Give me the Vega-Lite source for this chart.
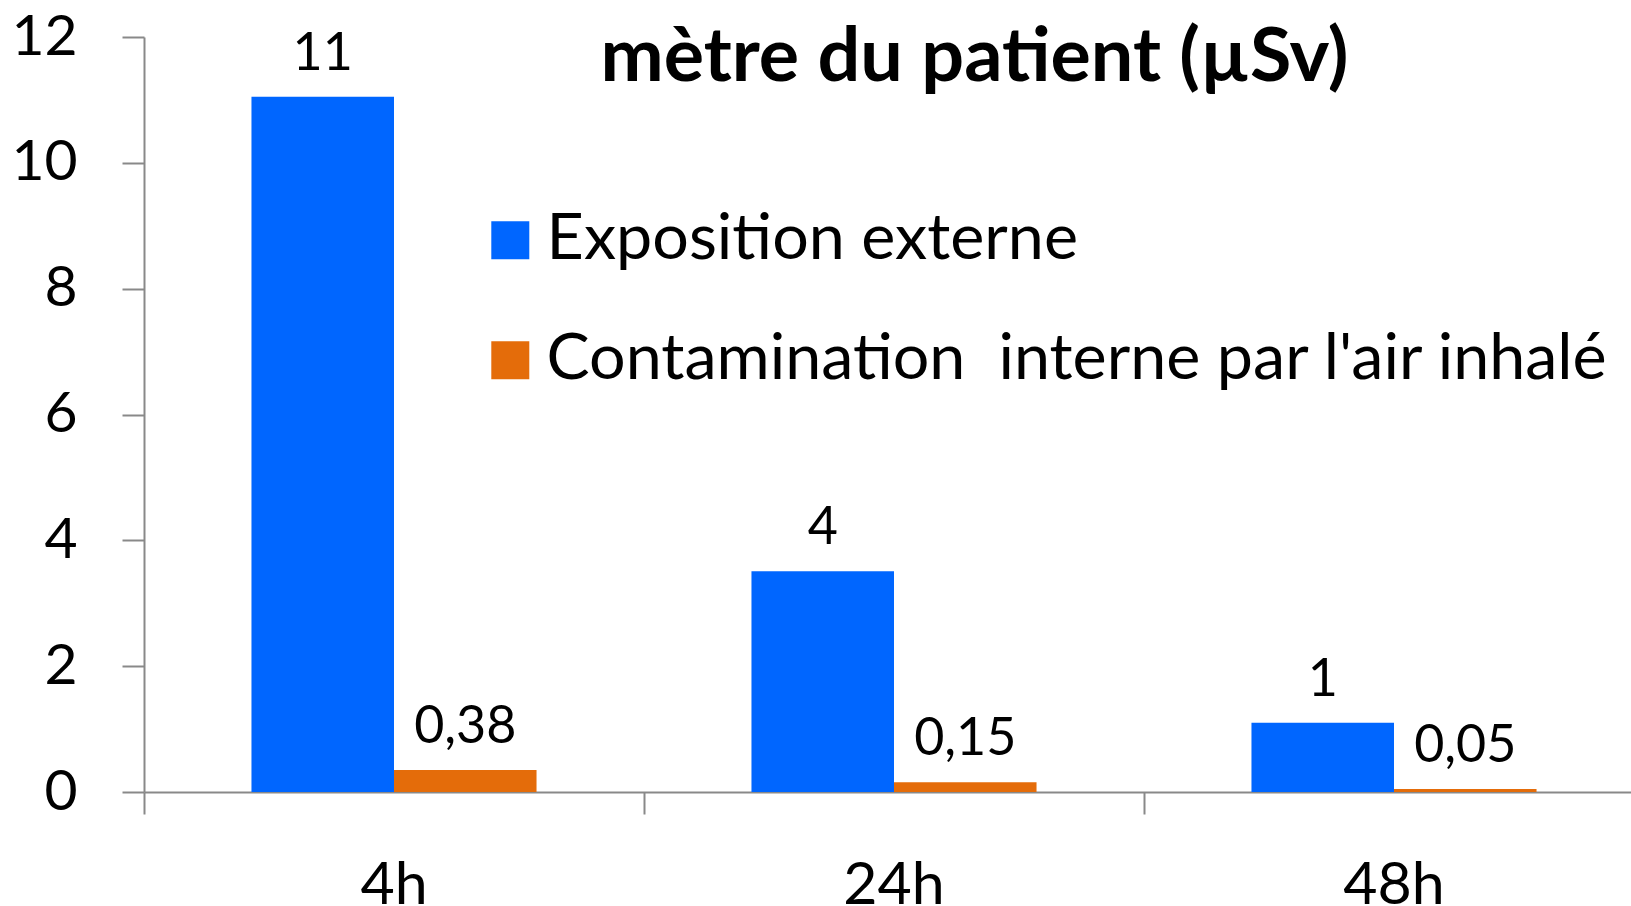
{
  "$schema": "https://vega.github.io/schema/vega-lite/v6.json",
  "width": 1487,
  "height": 755,
  "autosize": {"type": "none"},
  "padding": {"left": 144, "top": 37, "right": 0, "bottom": 114},
  "background": "white",
  "config": {
    "view": {"stroke": null},
    "font": "Lato",
    "text": {"font": "Lato"}
  },
  "title": {
    "text": "mètre du patient (µSv)",
    "orient": "top",
    "anchor": "middle",
    "frame": "group",
    "dx": 87,
    "offset": -148,
    "baseline": "alphabetic",
    "font": "Lato",
    "fontSize": 75.5,
    "fontWeight": "bold",
    "color": "#000000"
  },
  "data": {
    "values": [
      {"time": "4h", "series": "Exposition externe", "value": 11.05, "label": "11"},
      {"time": "4h", "series": "Contamination \u00a0interne par l'air inhalé", "value": 0.35, "label": "0,38"},
      {"time": "24h", "series": "Exposition externe", "value": 3.51, "label": "4"},
      {"time": "24h", "series": "Contamination \u00a0interne par l'air inhalé", "value": 0.155, "label": "0,15"},
      {"time": "48h", "series": "Exposition externe", "value": 1.1, "label": "1"},
      {"time": "48h", "series": "Contamination \u00a0interne par l'air inhalé", "value": 0.048, "label": "0,05"}
    ]
  },
  "encoding": {
    "x": {
      "field": "time",
      "type": "nominal",
      "sort": ["4h", "24h", "48h"],
      "scale": {"type": "band", "paddingInner": 0, "paddingOuter": 0, "range": [0, 1500]},
      "axis": {
        "title": null,
        "bandPosition": 0,
        "labelOffset": 0,
        "labelAngle": 0,
        "labelFont": "Lato",
        "labelFontSize": 59,
        "labelColor": "#000000",
        "labelPadding": 42,
        "tickSize": 22,
        "tickColor": "#898989",
        "tickWidth": 2,
        "domainColor": "#898989",
        "domainWidth": 2,
        "grid": false
      }
    },
    "xOffset": {
      "field": "series",
      "type": "nominal",
      "sort": ["Exposition externe", "Contamination \u00a0interne par l'air inhalé"],
      "scale": {"paddingInner": 0, "paddingOuter": 0.754}
    },
    "y": {
      "field": "value",
      "type": "quantitative",
      "scale": {"domain": [0, 12], "nice": false},
      "axis": {
        "title": null,
        "values": [0, 2, 4, 6, 8, 10, 12],
        "labelFont": "Lato",
        "labelFontSize": 57,
        "labelColor": "#000000",
        "labelPadding": 45,
        "tickSize": 22,
        "tickColor": "#898989",
        "tickWidth": 2,
        "domainColor": "#898989",
        "domainWidth": 2,
        "grid": false
      }
    }
  },
  "layer": [
    {
      "mark": {"type": "bar"},
      "encoding": {
        "color": {
          "field": "series",
          "type": "nominal",
          "scale": {
            "domain": ["Exposition externe", "Contamination \u00a0interne par l'air inhalé"],
            "range": ["#0066FF", "#E46C0A"]
          },
          "legend": {
            "title": null,
            "orient": "none",
            "legendX": 334,
            "legendY": 171,
            "direction": "vertical",
            "padding": 0,
            "symbolType": "square",
            "symbolSize": 1444,
            "symbolStrokeWidth": 0,
            "labelFont": "Lato",
            "labelFontSize": 64.6,
            "labelColor": "#000000",
            "labelOffset": 4,
            "labelLimit": 0,
            "rowPadding": 55
          }
        }
      }
    },
    {
      "mark": {"type": "text", "baseline": "alphabetic", "dy": -27, "font": "Lato", "fontSize": 52, "color": "#000000"},
      "encoding": {
        "text": {"field": "label", "type": "nominal"}
      }
    }
  ]
}
